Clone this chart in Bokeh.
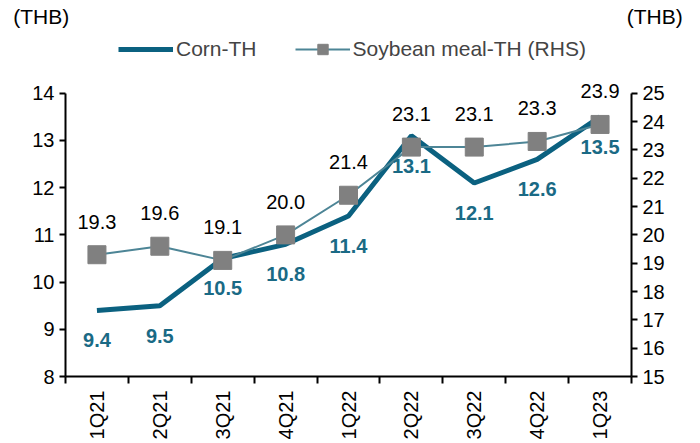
from bokeh.plotting import figure
from bokeh.models import (Range1d, LinearAxis, FixedTicker, ColumnDataSource,
                          LabelSet, Legend, LegendItem)
from bokeh.core.properties import value
from bokeh.embed import file_html
from bokeh.resources import INLINE

categories = ["1Q21", "2Q21", "3Q21", "4Q21", "1Q22", "2Q22", "3Q22", "4Q22", "1Q23"]
corn = [9.4, 9.5, 10.5, 10.8, 11.4, 13.1, 12.1, 12.6, 13.5]
soy = [19.3, 19.6, 19.1, 20.0, 21.4, 23.1, 23.1, 23.3, 23.9]
left_ticks = [8, 9, 10, 11, 12, 13, 14]
right_ticks = [15, 16, 17, 18, 19, 20, 21, 22, 23, 24, 25]
unit_label = "(THB)"
series_names = ["Corn-TH", "Soybean meal-TH (RHS)"]

FONT = "Liberation Sans"
CORN_C = "#0b6180"
CORN_T = "#1a6a85"
SOY_C = "#4d8596"
MARK_C = "#808080"

xs = [i + 0.5 for i in range(len(categories))]
src = ColumnDataSource(dict(
    x=xs, corn=corn, soy=soy,
    corn_t=[f"{v:.1f}" for v in corn],
    soy_t=[f"{v:.1f}" for v in soy],
))

# frame extends above the top tick (axis lines stop at the top tick via bounds)
ext = 1.627
p = figure(width=697, height=442, output_backend="svg", toolbar_location=None,
           x_range=Range1d(0, len(categories)),
           y_range=Range1d(left_ticks[0], left_ticks[-1] + ext),
           min_border_left=65, min_border_right=66, min_border_top=16,
           min_border_bottom=64)
scale = (right_ticks[-1] - right_ticks[0]) / (left_ticks[-1] - left_ticks[0])
p.extra_y_ranges = {"right": Range1d(right_ticks[0], right_ticks[-1] + ext * scale)}
p.outline_line_color = None
p.grid.visible = False


def style(ax):
    ax.axis_line_color = "black"
    ax.axis_line_width = 2
    ax.major_tick_line_color = "black"
    ax.major_tick_line_width = 2
    ax.major_tick_in = 0
    ax.major_tick_out = 6
    ax.minor_tick_line_color = None
    ax.major_label_text_font = FONT
    ax.major_label_text_font_size = "20px"
    ax.major_label_text_color = "black"


def unit(ax, standoff):
    ax.axis_label = unit_label
    ax.axis_label_orientation = "horizontal"
    ax.axis_label_align = "end"
    ax.axis_label_standoff = standoff
    ax.axis_label_text_font = FONT
    ax.axis_label_text_font_size = "21px"
    ax.axis_label_text_font_style = "normal"
    ax.axis_label_text_color = "black"


ya = p.yaxis[0]
style(ya)
ya.ticker = FixedTicker(ticks=left_ticks)
ya.bounds = (left_ticks[0], left_ticks[-1])
unit(ya, -40)

ra = LinearAxis(y_range_name="right", ticker=FixedTicker(ticks=right_ticks),
                bounds=(right_ticks[0], right_ticks[-1]))
style(ra)
unit(ra, -41)
p.add_layout(ra, "right")

xa = p.xaxis[0]
style(xa)
xa.ticker = FixedTicker(ticks=xs, minor_ticks=list(range(len(categories) + 1)))
xa.major_label_overrides = {x: c for x, c in zip(xs, categories)}
xa.major_tick_out = 0
xa.minor_tick_line_color = "black"
xa.minor_tick_line_width = 2
xa.minor_tick_in = 0
xa.minor_tick_out = 7
xa.major_label_orientation = 1.5708
xa.major_label_standoff = 7

corn_r = p.line("x", "corn", source=src, line_color=CORN_C, line_width=5)
soy_l = p.line("x", "soy", source=src, y_range_name="right", line_color=SOY_C, line_width=2)
soy_m = p.scatter("x", "soy", source=src, y_range_name="right", marker="square",
                  size=18, fill_color=MARK_C, line_color=MARK_C)

p.add_layout(LabelSet(x="x", y="corn", text="corn_t", source=src, y_offset=-30,
                      text_align="center", text_baseline="middle",
                      text_font=value(FONT), text_font_size=value("20px"),
                      text_font_style=value("bold"), text_color=CORN_T))
p.add_layout(LabelSet(x="x", y="soy", text="soy_t", source=src, y_range_name="right",
                      y_offset=33, text_align="center", text_baseline="middle",
                      text_font=value(FONT), text_font_size=value("20px"),
                      text_color="black"))

legend = Legend(items=[LegendItem(label=series_names[0], renderers=[corn_r]),
                       LegendItem(label=series_names[1], renderers=[soy_l, soy_m])],
                orientation="horizontal", location=(53, 314),
                glyph_width=55, glyph_height=26, label_height=26, spacing=38,
                label_standoff=3, label_text_font=FONT, label_text_font_size="21px",
                label_text_baseline="middle",
                background_fill_alpha=0, border_line_color=None, padding=0, margin=0)
p.add_layout(legend, "center")

open("out.html", "w").write(file_html(p, INLINE))
